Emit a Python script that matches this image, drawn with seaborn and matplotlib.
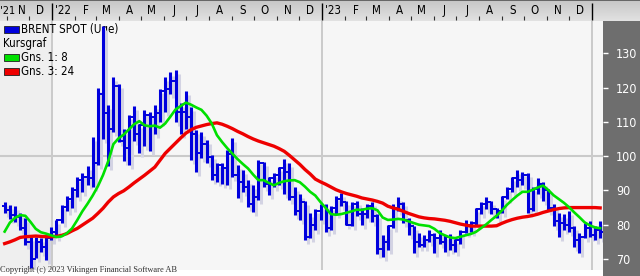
import numpy as np
import pandas as pd
import matplotlib
matplotlib.use("Agg")
import matplotlib.pyplot as plt
import matplotlib.transforms as mtransforms
import matplotlib.dates as mdates
from matplotlib.patches import Rectangle
import seaborn as sns

# ---------------- data (weekly) ----------------
weeks = pd.date_range("2021-10-29", periods=116, freq="7D")

open_ = [85.5, 84.4, 82.7, 82.2, 79.0, 75.0, 70.0, 75.0, 73.5, 76.0,
         77.8, 81.3, 85.2, 87.5, 90.0, 93.0, 94.0, 93.5, 98.0, 118.0,
         112.5, 108.0, 120.5, 104.5, 102.5, 111.5, 106.5, 109.0, 112.0, 111.5,
         112.5, 119.0, 119.5, 122.0, 113.0, 113.0, 111.5, 106.5, 101.0, 103.5,
         99.8, 94.5, 97.5, 96.5, 100.5, 94.5, 92.5, 91.0, 86.0, 88.0,
         98.0, 92.0, 93.5, 94.5, 96.5, 95.5, 88.0, 84.0, 86.5, 76.5,
         80.0, 84.0, 85.5, 79.0, 85.0, 87.5, 86.5, 80.0, 86.0, 83.0,
         83.0, 85.5, 82.5, 73.0, 75.0, 79.5, 85.0, 86.0, 81.5, 79.5,
         75.0, 74.0, 75.5, 77.0, 76.0, 75.0, 76.5, 74.0, 75.5, 78.0,
         80.0, 80.5, 84.5, 86.0, 86.5, 84.5, 84.0, 88.0, 90.5, 93.5,
         93.0, 94.5, 84.5, 90.5, 92.0, 90.0, 85.0, 81.0, 80.5, 80.0,
         79.0, 75.5, 76.5, 79.0, 77.0, 78.5]
high = [86.7, 85.7, 85.5, 83.3, 82.0, 76.5, 76.5, 76.0, 77.0, 79.4,
        81.5, 85.7, 88.5, 91.0, 94.0, 95.0, 97.0, 105.5, 119.8, 138.0,
        115.0, 123.0, 121.0, 108.0, 112.0, 114.5, 109.5, 113.5, 113.0, 115.0,
        119.5, 123.0, 124.5, 125.0, 115.5, 119.0, 114.4, 107.6, 107.0, 104.7,
        100.3, 98.0, 98.0, 101.7, 105.2, 97.4, 95.9, 93.0, 91.5, 98.8,
        98.3, 94.0, 95.0, 96.9, 99.3, 97.9, 91.0, 89.0, 87.0, 83.5,
        84.5, 86.0, 86.0, 85.5, 88.5, 89.2, 87.0, 86.5, 86.8, 84.8,
        86.0, 86.5, 83.0, 77.0, 80.0, 86.0, 88.0, 86.5, 82.0, 79.5,
        77.7, 77.0, 78.4, 77.5, 78.5, 77.0, 77.3, 75.8, 78.5, 81.5,
        81.0, 85.0, 86.5, 88.0, 87.0, 85.0, 88.5, 91.0, 94.0, 96.0,
        95.5, 95.0, 91.0, 93.5, 92.5, 90.5, 86.0, 83.5, 83.0, 84.0,
        79.5, 77.5, 80.5, 81.0, 79.5, 81.0]
low = [83.3, 81.8, 80.8, 78.4, 74.0, 67.3, 70.2, 72.1, 69.7, 75.5,
       76.5, 80.5, 84.0, 85.0, 88.0, 89.6, 91.5, 91.0, 97.5, 105.0,
       97.0, 107.0, 104.0, 98.5, 97.5, 104.5, 101.0, 103.0, 101.5, 106.5,
       110.0, 113.0, 118.0, 110.0, 106.5, 108.0, 98.8, 95.4, 99.4, 98.0,
       93.0, 92.5, 92.0, 91.5, 94.0, 87.8, 89.6, 85.2, 83.8, 87.2,
       91.0, 88.6, 91.0, 91.5, 89.1, 87.2, 82.8, 81.5, 75.5, 76.0,
       78.5, 81.5, 77.8, 78.5, 83.0, 85.5, 79.8, 79.5, 82.6, 80.0,
       82.0, 80.8, 71.5, 70.6, 72.6, 79.0, 84.0, 80.5, 77.0, 71.7,
       73.5, 73.5, 75.0, 71.8, 74.5, 72.0, 72.5, 72.0, 74.5, 77.5,
       78.0, 80.0, 83.0, 84.5, 83.0, 82.0, 83.5, 87.5, 89.5, 91.0,
       91.5, 83.5, 84.0, 89.0, 87.0, 84.0, 79.5, 76.5, 78.5, 78.0,
       73.5, 71.8, 76.0, 76.5, 75.5, 76.0]
close = [84.4, 82.7, 82.2, 79.0, 75.0, 70.0, 75.0, 73.5, 76.0, 77.8,
         81.3, 85.2, 87.5, 90.0, 93.0, 94.0, 93.5, 98.0, 118.0, 112.5,
         108.0, 120.5, 104.5, 102.5, 111.5, 106.5, 109.0, 112.0, 111.5, 112.5,
         119.0, 119.5, 122.0, 113.0, 113.0, 111.5, 106.5, 101.0, 103.5, 104.0,
         94.5, 97.5, 96.5, 100.5, 94.5, 92.5, 91.0, 86.0, 88.0, 98.0,
         92.0, 93.5, 94.5, 96.5, 95.5, 88.0, 84.0, 86.5, 76.5, 80.0,
         84.0, 85.5, 79.0, 85.0, 87.5, 86.5, 80.0, 86.0, 83.0, 83.0,
         85.5, 82.5, 73.0, 75.0, 79.5, 85.0, 86.0, 81.5, 79.5, 75.0,
         74.0, 75.5, 77.0, 76.0, 75.0, 76.5, 74.0, 75.5, 78.0, 80.0,
         80.5, 84.5, 86.0, 86.5, 84.5, 84.0, 88.0, 90.5, 93.5, 93.0,
         94.5, 84.5, 90.5, 92.0, 90.0, 85.0, 81.0, 80.5, 80.0, 79.0,
         75.5, 76.5, 79.0, 77.0, 78.5, 78.0]
ma8 = [78.0, 80.6, 82.0, 82.8, 82.6, 80.8, 78.8, 77.8, 77.4, 76.9,
       76.4, 76.6, 77.5, 78.9, 81.3, 83.9, 86.1, 88.5, 91.2, 94.5,
       98.5, 103.5, 105.2, 106.3, 107.8, 109.3, 110.2, 109.0, 108.7, 108.9,
       108.3, 109.5, 111.5, 113.6, 114.6, 115.6, 115.0, 114.2, 113.5, 111.8,
       109.5, 106.1, 104.1, 102.3, 100.7, 99.1, 97.7, 96.4, 94.6, 93.0,
       93.0, 92.2, 91.5, 92.2, 92.7, 92.9, 93.0, 92.4, 91.1, 89.6,
       88.5, 86.6, 84.9, 83.1, 82.9, 83.1, 83.5, 83.9, 84.4, 84.3,
       84.7, 84.8, 84.2, 82.1, 81.4, 81.5, 81.7, 81.5, 81.0, 80.5,
       80.0, 79.8, 79.6, 78.8, 77.6, 76.9, 76.3, 76.1, 76.5, 76.9,
       77.3, 77.9, 79.0, 80.1, 81.4, 82.6, 84.1, 85.8, 87.2, 88.5,
       89.6, 89.6, 90.2, 90.9, 91.4, 90.1, 88.6, 87.5, 86.4, 85.1,
       83.6, 82.2, 80.7, 79.8, 79.2, 79.0]
ma24 = [74.5, 75.0, 75.6, 76.3, 76.5, 76.6, 76.7, 76.6, 76.5, 76.5,
        76.6, 76.9, 77.4, 78.2, 78.9, 79.9, 80.9, 81.9, 83.3, 84.8,
        86.6, 88.1, 89.1, 89.9, 91.0, 92.2, 93.3, 94.4, 95.6, 96.8,
        98.8, 100.8, 102.3, 103.8, 105.3, 106.7, 107.7, 108.4, 108.8, 109.2,
        109.5, 109.7, 109.3, 108.7, 108.0, 107.2, 106.5, 105.7, 105.0, 104.4,
        103.9, 103.4, 102.9, 102.2, 101.4, 100.2, 98.9, 97.6, 96.1, 94.8,
        93.3, 92.5, 91.8, 91.0, 90.2, 89.6, 89.1, 88.7, 88.3, 87.8,
        87.5, 87.2, 86.8, 86.3, 85.4, 84.9, 84.5, 83.9, 83.3, 82.8,
        82.3, 82.0, 81.8, 81.7, 81.5, 81.3, 81.0, 80.6, 80.2, 79.9,
        79.6, 79.6, 79.6, 79.6, 79.6, 79.7, 80.4, 81.0, 81.5, 81.9,
        82.2, 82.4, 82.7, 83.1, 83.6, 84.0, 84.4, 84.7, 84.9, 85.0,
        85.0, 85.0, 85.0, 85.0, 85.0, 84.9]

month_labels = ["'21", "N", "D", "'22", "F", "M", "A", "M", "J", "J", "A", "S", "O", "N", "D",
                "'23", "F", "M", "A", "M", "J", "J", "A", "S", "O", "N", "D"]
ytick_values = [70, 80, 90, 100, 110, 120, 130]
legend_labels = ["BRENT SPOT (Uge)", "Kursgraf", "Gns. 1: 8", "Gns. 3: 24"]

df = pd.DataFrame({"week": weeks, "open": open_, "high": high, "low": low,
                   "close": close, "ma8": ma8, "ma24": ma24})

# ---------------- layout ----------------
W, H = 640, 276
fig = plt.figure(figsize=(W / 100, H / 100), dpi=100)
fig.patch.set_facecolor("white")
FAM = ["DejaVu Sans"]
STRETCH = "condensed"

def px_axes(x0, y0, x1, y1):
    return fig.add_axes([x0 / W, 1 - y1 / H, (x1 - x0) / W, (y1 - y0) / H])

PX_PER_DAY = 540 / 730.0
jan22 = mdates.date2num(pd.Timestamp("2022-01-01"))
x_left = jan22 - 52 / PX_PER_DAY
x_right = x_left + 603 / PX_PER_DAY

# right dark panel
fig.patches.append(Rectangle((603 / W, 0), 37 / W, 1 - 21 / H, transform=fig.transFigure,
                             facecolor="#6e6e6e", edgecolor="none", zorder=-5))

# ---------------- main plot ----------------
ax = px_axes(0, 21, 603, 270)
ax.set_facecolor("#f6f6f6")
ax.set_xlim(x_left, x_right)
ax.set_ylim(66.8, 139.4)
for s in ax.spines.values():
    s.set_visible(False)

ax.axvspan(x_left, jan22, color="#efefef", zorder=0, lw=0)
for yr in ["2022-01-01", "2023-01-01", "2024-01-01"]:
    ax.axvline(mdates.date2num(pd.Timestamp(yr)), color="#cacaca", lw=1.4, zorder=1)
ax.axhline(100, color="#cacaca", lw=1.5, zorder=1)

xs = mdates.date2num(df["week"])
tick_len = 2.6 / PX_PER_DAY
shadow = mtransforms.offset_copy(ax.transData, fig=fig, x=3, y=-4, units="dots")
ax.vlines(xs, df["low"], df["high"], color="#d3d3e3", lw=2.2, transform=shadow, zorder=2)
ax.vlines(xs, df["low"], df["high"], color="#0000dd", lw=2.2, zorder=3)
ax.hlines(df["open"], xs - tick_len, xs, color="#0000dd", lw=1.4, zorder=3)
ax.hlines(df["close"], xs, xs + tick_len, color="#0000dd", lw=1.4, zorder=3)

df["xn"] = xs
sns.lineplot(data=df, x="xn", y="ma24", ax=ax, color="#ee0000", lw=2.4, zorder=4, legend=False)
sns.lineplot(data=df, x="xn", y="ma8", ax=ax, color="#00e000", lw=1.9, zorder=5, legend=False)
ax.set_xlabel("")
ax.set_ylabel("")
ax.set_xticks([])

ax.yaxis.tick_right()
ax.set_yticks(ytick_values)
ax.set_yticklabels([str(v) for v in ytick_values], family=FAM, fontstretch=STRETCH,
                   fontsize=9.0, color="white")
ax.tick_params(axis="y", colors="white", length=3.5, width=1, pad=6, labelcolor="white")

# legend drawn in pixel positions
def pxt(x, y):
    return (x / 603, 1 - (y - 21) / 249)

for (txt, ycen, col) in [(legend_labels[0], 29.5, "#0000dd"), (legend_labels[1], 43, None),
                         (legend_labels[2], 57.5, "#00e000"), (legend_labels[3], 71.5, "#ee0000")]:
    if col is not None:
        x0, y0 = pxt(4, ycen + 3.5)
        x1, y1 = pxt(19, ycen - 3.5)
        ax.add_patch(Rectangle((x0, y0), x1 - x0, y1 - y0, transform=ax.transAxes,
                               facecolor=col, edgecolor="#202020", lw=0.6, zorder=6))
        tx = 21
    else:
        tx = 3
    ax.text(*pxt(tx, ycen), txt, transform=ax.transAxes, ha="left", va="center",
            family=FAM, fontstretch=STRETCH, fontsize=8.3, color="black", zorder=1)

# ---------------- top date band ----------------
axt = px_axes(0, 0, 640, 21)
axt.set_xlim(x_left, x_left + 640 / PX_PER_DAY)
axt.set_ylim(0, 1)
grad = np.linspace(0, 1, 50).reshape(-1, 1)
axt.imshow(grad, extent=[x_left, x_left + 640 / PX_PER_DAY, 0, 1], aspect="auto",
           cmap=matplotlib.colors.LinearSegmentedColormap.from_list("g", ["#e2e2e2", "#c6c6c6"]),
           origin="lower", zorder=0)
axt.axhline(0.985, color="#555555", lw=1.2)
axt.axis("off")

mstarts = pd.date_range("2021-10-01", "2024-01-01", freq="MS")
for i, ms in enumerate(mstarts[:-1]):
    mid = mdates.date2num(ms) + 14.5
    lab = month_labels[i]
    if i == 0:
        axt.text(x_left + 0.3 / PX_PER_DAY, 0.5, lab, ha="left", va="center", family=FAM,
                 fontstretch=STRETCH, fontsize=7.8, color="black", zorder=3)
        continue
    if i == 1:
        mid = x_left + 21.5 / PX_PER_DAY
    axt.text(mid, 0.5, lab, ha="center", va="center", family=FAM, fontstretch=STRETCH,
             fontsize=8.3, color="black", zorder=3)
for ms in mstarts[1:]:
    xm = mdates.date2num(ms)
    if ms.month == 1:
        axt.vlines(xm, 0.05, 0.85, color="black", lw=1.0, zorder=3)
    else:
        axt.vlines(xm, 0.05, 0.25, color="#303030", lw=0.8, zorder=3)

fig.text(0.5 / W, 1 - 270.5 / H, "Copyright (c) 2023 Vikingen Financial Software AB",
         family=["Liberation Serif", "DejaVu Serif"], fontsize=6, color="#303030",
         ha="left", va="center")

fig.savefig("out.png", dpi=100)
